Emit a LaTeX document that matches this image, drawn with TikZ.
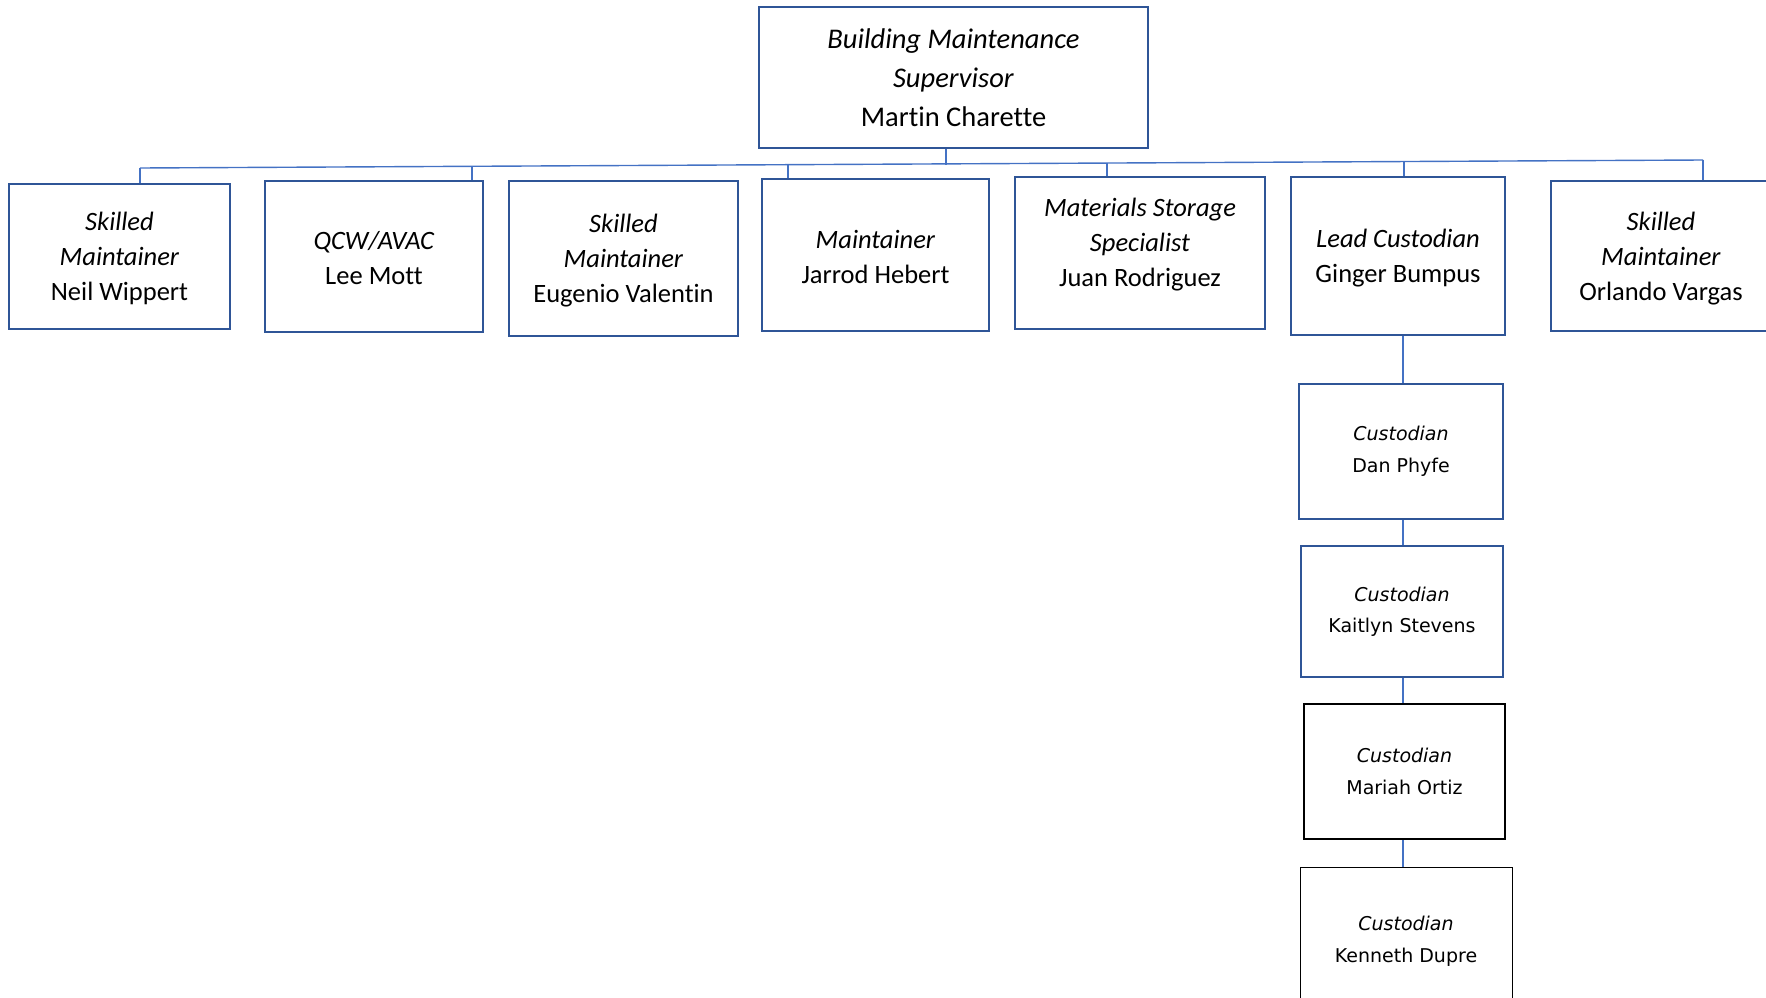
\documentclass[tikz,border=0pt]{standalone}
\usepackage{fontspec}
\setmainfont{Carlito}[Ligatures=NoCommon]
\newfontfamily\vsans{DejaVu Sans}
\definecolor{boxblue}{HTML}{2F5597}
\definecolor{lineblue}{HTML}{4472C4}
\definecolor{txtdark}{HTML}{000000}
\begin{document}
\begin{tikzpicture}[x=1pt,y=-1pt,
  box/.style={draw=boxblue,line width=2.6pt,rectangle,inner sep=0pt,align=center,
    font={\fontsize{26.5}{35}\selectfont}},
  topbox/.style={box,font={\fontsize{28.5}{39}\selectfont}},
  cbox/.style={draw=boxblue,line width=2.6pt,rectangle,inner sep=0pt,align=center,
    text=txtdark,font={\vsans\fontsize{19}{31.5}\selectfont}},
  txt/.style={inner sep=0pt,align=center,font={\fontsize{26.5}{35}\selectfont}},
  conn/.style={draw=lineblue,line width=1.4pt}]
\useasboundingbox (0,0) rectangle (1766,998);
% supervisor
\node[topbox,minimum width=389pt,minimum height=141pt] (sup) at (953.5,77.5)
  {\textit{Building Maintenance}\\\textit{Supervisor}\\Martin Charette};
% row
\node[box,minimum width=221pt,minimum height=145pt] (neil) at (119.5,256.5) {};
\node[txt] (neilt) at (119.5,258.5)
  {\textit{Skilled}\\\textit{Maintainer}\\Neil Wippert};
\node[box,minimum width=218pt,minimum height=151pt] (lee) at (374,256.5) {};
\node[txt] (leet) at (374,258)
  {\textit{QCW/AVAC}\\Lee Mott};
\node[box,minimum width=229pt,minimum height=155pt] (eug) at (623.5,258.5) {};
\node[txt] (eugt) at (623.5,260.5)
  {\textit{Skilled}\\\textit{Maintainer}\\Eugenio Valentin};
\node[box,minimum width=227pt,minimum height=152pt] (jar) at (875.5,255) {};
\node[txt] (jart) at (875.5,257)
  {\textit{Maintainer}\\Jarrod Hebert};
\node[box,minimum width=250pt,minimum height=152pt] (juan) at (1140,253) {};
\node[txt] (juant) at (1140,245)
  {\textit{Materials Storage}\\\textit{Specialist}\\Juan Rodriguez};
\node[box,minimum width=214pt,minimum height=158pt] (gin) at (1398,256) {};
\node[txt] (gint) at (1398,258)
  {\textit{Lead Custodian}\\Ginger Bumpus};
\node[box,minimum width=232pt,minimum height=150pt] (orl) at (1667,256) {};
\node[txt] (orlt) at (1661,258.5)
  {\textit{Skilled}\\\textit{Maintainer}\\Orlando Vargas};
% custodians
\node[cbox,minimum width=204pt,minimum height=135pt] (dan) at (1401,451.5)
  {\textit{Custodian}\\Dan Phyfe};
\node[cbox,minimum width=202pt,minimum height=131pt] (kai) at (1402,611.5)
  {\textit{Custodian}\\Kaitlyn Stevens};
\node[cbox,draw=black,line width=2.8pt,minimum width=201pt,minimum height=135pt] (mar) at (1404.5,771.5)
  {\textit{Custodian}\\Mariah Ortiz};
\node[cbox,draw=black,line width=0.9pt,minimum width=212pt,minimum height=148pt] (ken) at (1406,941)
  {\textit{Custodian}\\Kenneth Dupre};
% bus
\coordinate (busL) at (140,168);
\coordinate (busR) at (1703,160);
\coordinate (t2) at (472,166);
\coordinate (t4) at (788,165);
\coordinate (t5) at (1107,163);
\coordinate (t6) at (1404,161.5);
\coordinate (t0) at (946,164.8);
\draw[conn] (busL) -- (busR);
\draw[conn] (sup.south -| t0) -- (t0);
\draw[conn] (busL) -- (busL |- neil.north);
\draw[conn] (t2) -- (t2 |- lee.north);
\draw[conn] (t4) -- (t4 |- jar.north);
\draw[conn] (t5) -- (t5 |- juan.north);
\draw[conn] (t6) -- (t6 |- gin.north);
\draw[conn] (busR) -- (busR |- orl.north);
% custodian chain
\coordinate (cx) at (1403,0);
\draw[conn] (gin.south -| cx) -- (dan.north -| cx);
\draw[conn] (dan.south -| cx) -- (kai.north -| cx);
\draw[conn] (kai.south -| cx) -- (mar.north -| cx);
\draw[conn] (mar.south -| cx) -- (ken.north -| cx);
\end{tikzpicture}
\end{document}
